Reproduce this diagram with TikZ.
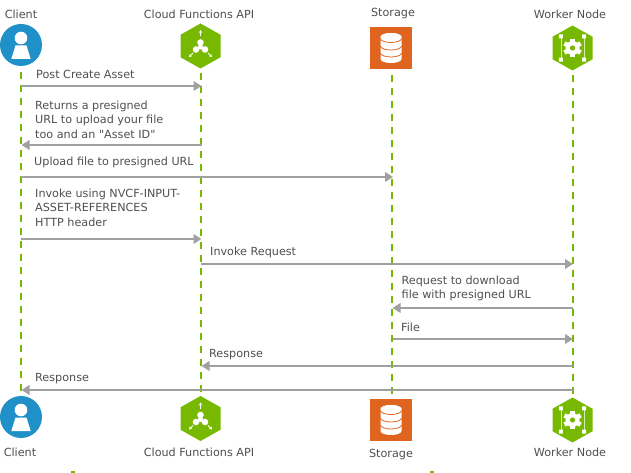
\documentclass[tikz,border=0pt]{standalone}
\usepackage{fontspec}
\newfontfamily\labelfont{DejaVu Sans}
\usetikzlibrary{shapes.geometric,arrows.meta}
\definecolor{nvgreen}{HTML}{76B900}
\definecolor{msggray}{HTML}{A0A0A0}
\definecolor{txtgray}{HTML}{505050}
\definecolor{clientblue}{HTML}{2090C8}
\definecolor{storeorange}{HTML}{DE6420}
\tikzset{
  lifeline/.style={draw=nvgreen,line width=2.02pt,dash pattern=on 7.5pt off 5.5pt},
  msg/.style={draw=msggray,line width=2.02pt,-{Triangle[length=8pt,width=9.5pt]}},
  lbl/.style={anchor=west,inner sep=0pt,text=txtgray,font=\labelfont\fontsize{11.2}{14.4}\selectfont,align=left},
  title/.style={inner sep=0pt,text=txtgray,font=\labelfont\fontsize{11.2}{14.4}\selectfont},
  clientshape/.style={circle,fill=clientblue,inner sep=0pt,minimum size=42pt},
  storeshape/.style={rectangle,fill=storeorange,inner sep=0pt,minimum width=42pt,minimum height=42pt},
  glyph/.style={fill=white,draw=none},
  glyphline/.style={draw=white,line width=0.9pt},
}
\newcommand{\hexagonat}[3]{% name, x, y
  \node[inner sep=0pt,minimum size=0pt] (#1) at (#2,#3) {};
  \fill[nvgreen] (#2,#3) ++(0,-22.5) -- ++(20,11.25) -- ++(0,22.5) -- ++(-20,11.25) -- ++(-20,-11.25) -- ++(0,-22.5) -- cycle;
}
\newcommand{\clientglyph}[2]{%
  \begin{scope}[shift={(#1,#2)}]
    \fill[glyph] (0,-7) circle (6.3pt);
    \fill[glyph] (-5.5,0.5) -- (5.5,0.5) -- (9.7,14) -- (-9.7,14) -- cycle;
  \end{scope}}
\newcommand{\apiglyph}[2]{%
  \begin{scope}[shift={(#1,#2)}]
    \draw[fill=white,draw=nvgreen,line width=0.5pt] (0,-3.5) circle (3.7pt) (-4.5,3.5) circle (3.7pt) (4.5,3.5) circle (3.7pt);
    \fill[white] (0,1) circle (2.6pt);
    \draw[glyphline,-{Stealth[length=3pt,width=3.5pt]}] (0,-10) -- (0,-16);
    \draw[glyphline,-{Stealth[length=3pt,width=3.5pt]}] (-7.5,7) -- (-11.5,11);
    \draw[glyphline,-{Stealth[length=3pt,width=3.5pt]}] (7.5,7) -- (11.5,11);
  \end{scope}}
\newcommand{\storeglyph}[2]{%
  \begin{scope}[shift={(#1,#2)}]
    \fill[glyph] (-10.5,-11) -- (-10.5,11) arc[x radius=10.5,y radius=-4,start angle=180,end angle=360] -- (10.5,-11) arc[x radius=10.5,y radius=-4,start angle=0,end angle=180] -- cycle;
    \fill[glyph] (0,-11) ellipse (10.5pt and 4pt);
    \draw[storeorange,line width=0.8pt] (-10.5,-9.5) arc[x radius=10.5,y radius=-4,start angle=180,end angle=360];
    \draw[storeorange,line width=0.8pt] (-10.5,-2) arc[x radius=10.5,y radius=-4,start angle=180,end angle=360];
    \draw[storeorange,line width=0.8pt] (-10.5,5) arc[x radius=10.5,y radius=-4,start angle=180,end angle=360];
  \end{scope}}
\newcommand{\workerglyph}[2]{%
  \begin{scope}[shift={(#1,#2)}]
    \draw[draw=white!70!nvgreen,line width=0.6pt] (-11.7,-11.7) -- (-11.7,11.7) (11.7,-11.7) -- (11.7,11.7);
    \fill[glyph] (-13.7,-13.7) rectangle (-9.7,-9.7) (9.7,-13.7) rectangle (13.7,-9.7) (-13.7,9.7) rectangle (-9.7,13.7) (9.7,9.7) rectangle (13.7,13.7);
    \foreach \a in {0,60,...,300}{\fill[glyph,rotate=\a] (-2.3,-9.3) rectangle (2.3,-4);}
    \fill[glyph] (0,0) circle (7pt);
    \fill[nvgreen] (0,0) circle (2.6pt);
  \end{scope}}
\begin{document}
\begin{tikzpicture}[x=1pt,y=-1pt]
\useasboundingbox (0,0) rectangle (631,473);
\fill[white] (0,0) rectangle (631,473);
% titles
\node[title] (tClient) at (21,14) {Client};
\node[title] (tApi) at (199,14) {Cloud Functions API};
\node[title] (tStore) at (393,14) {Storage};
\node[title] (tWorker) at (570,14) {Worker Node};
\node[title] (bClient) at (20,452) {Client};
\node[title] (bApi) at (199,452) {Cloud Functions API};
\node[title] (bStore) at (391,455) {Storage};
\node[title] (bWorker) at (570,452) {Worker Node};
% anchors on lifelines
\node[inner sep=0pt] (clientTop) at (21,45) {};
\node[inner sep=0pt] (clientBot) at (21,417) {};
\node[inner sep=0pt] (storeTop) at (392,48) {};
\node[inner sep=0pt] (storeBot) at (392,420) {};
\node[inner sep=0pt] (apiTop) at (200.9,46) {};
\node[inner sep=0pt] (apiBot) at (200.9,418.5) {};
\node[inner sep=0pt] (workerTop) at (572.9,48) {};
\node[inner sep=0pt] (workerBot) at (572.9,420) {};
% lifelines
\draw[lifeline] (clientTop) -- (clientBot);
\draw[lifeline] (apiTop) -- (apiBot);
\draw[lifeline] (storeTop) -- (storeBot);
\draw[lifeline] (workerTop) -- (workerBot);
% icons
\node[clientshape] at (clientTop) {};
\clientglyph{21}{45}
\node[clientshape] at (clientBot) {};
\clientglyph{21}{417}
\node[storeshape] at (391,48) {};
\storeglyph{391}{48}
\node[storeshape] at (391,420) {};
\storeglyph{391}{420}
\hexagonat{apiTopHex}{200.5}{46}
\apiglyph{200.5}{46}
\hexagonat{apiBotHex}{200.5}{418.5}
\apiglyph{200.5}{418.5}
\hexagonat{workerTopHex}{572.5}{48}
\workerglyph{572.5}{48}
\hexagonat{workerBotHex}{572.5}{420}
\workerglyph{572.5}{420}
% message end points
\coordinate (m1a) at (21,86);    \coordinate (m1b) at (201.5,86);
\coordinate (m2a) at (202,145);  \coordinate (m2b) at (21.5,145);
\coordinate (m3a) at (21,177);   \coordinate (m3b) at (393,177);
\coordinate (m4a) at (21,239);   \coordinate (m4b) at (201.5,239);
\coordinate (m5a) at (200.5,264);\coordinate (m5b) at (573,264);
\coordinate (m6a) at (573,308);\coordinate (m6b) at (392.5,308);
\coordinate (m7a) at (393,339);  \coordinate (m7b) at (573,339);
\coordinate (m8a) at (573,366);\coordinate (m8b) at (201.5,366);
\coordinate (m9a) at (573,390);  \coordinate (m9b) at (21.5,390);
\foreach \p/\q in {m1a/m1b,m2a/m2b,m3a/m3b,m4a/m4b,m5a/m5b,m6a/m6b,m7a/m7b,m8a/m8b,m9a/m9b}
  \draw[msg] (\p) -- (\q);
% labels
\node[lbl] (l1) at (36,74.5) {Post Create Asset};
\node[lbl] (l2) at (35,119.5) {Returns a presigned\\URL to upload your file\\too and an "Asset ID"};
\node[lbl] (l3) at (34,162) {Upload file to presigned URL};
\node[lbl] (l4) at (35,207.5) {Invoke using NVCF-INPUT-\\ASSET-REFERENCES\\HTTP header};
\node[lbl] (l5) at (210,252.5) {Invoke Request};
\node[lbl] (l6) at (401.5,288.5) {Request to download\\file with presigned URL};
\node[lbl] (l7) at (401,327) {File};
\node[lbl] (l8) at (209,354.5) {Response};
\node[lbl] (l9) at (35,378.5) {Response};
% stray marks at the bottom edge
\fill[nvgreen] (71,471) rectangle (75,473);
\fill[nvgreen] (430,471) rectangle (434,473);
\end{tikzpicture}
\end{document}
